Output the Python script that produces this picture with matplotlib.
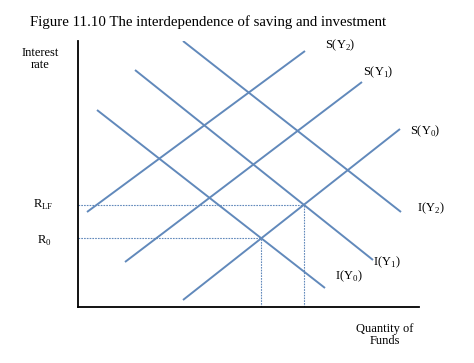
import numpy as np
import matplotlib
matplotlib.use("Agg")
import matplotlib.pyplot as plt

plt.rcParams['font.family'] = ['Liberation Serif', 'DejaVu Serif']
plt.rcParams['mathtext.fontset'] = 'custom'
plt.rcParams['mathtext.rm'] = 'Liberation Serif'

### curve endpoints (quantity, rate)
saving_names = ['S(Y$_2$)', 'S(Y$_1$)', 'S(Y$_0$)']
saving_x = [(9, 227), (47, 284), (105, 322)]
saving_y = [(95, 256), (45, 225), (7, 178)]

invest_names = ['I(Y$_2$)', 'I(Y$_1$)', 'I(Y$_0$)']
invest_x = [(105, 323), (57, 295), (19, 247)]
invest_y = [(266, 95), (237, 47), (197, 19)]

blue = '#6189bb'


def cross(ax_, ay_, bx_, by_):
    # intersection of two straight segments
    m1 = (ay_[1] - ay_[0]) / (ax_[1] - ax_[0])
    m2 = (by_[1] - by_[0]) / (bx_[1] - bx_[0])
    x = (by_[0] - ay_[0] + m1 * ax_[0] - m2 * bx_[0]) / (m1 - m2)
    return x, ay_[0] + m1 * (x - ax_[0])


fig = plt.figure(figsize=(4.74, 3.63), dpi=100)
ax = fig.add_axes([78 / 474, 56 / 363, 341 / 474, 266 / 363])
ax.set_xlim(0, 341)
ax.set_ylim(0, 266)
ax.set_xticks([])
ax.set_yticks([])
for s in ['top', 'right']:
    ax.spines[s].set_visible(False)
for s in ['left', 'bottom']:
    ax.spines[s].set_linewidth(1.3)

for xs, ys in zip(saving_x, saving_y):
    ax.plot(xs, ys, color=blue, lw=1.4, solid_capstyle='butt')
for xs, ys in zip(invest_x, invest_y):
    ax.plot(xs, ys, color=blue, lw=1.4, solid_capstyle='butt')

# equilibria: S(Y0) with I(Y0) and with I(Y1)
q0, r0 = cross(saving_x[2], saving_y[2], invest_x[2], invest_y[2])
q1, r1 = cross(saving_x[2], saving_y[2], invest_x[1], invest_y[1])
for q, r in [(q0, r0), (q1, r1)]:
    ax.plot([0, q], [r, r], color=blue, lw=0.8, ls=(0, (1.5, 1)))
    ax.plot([q, q], [0, r], color=blue, lw=0.8, ls=(0, (1.5, 1)))

# curve labels
fs = 9
ax.text(247, 262, saving_names[0], fontsize=fs, va='center', clip_on=False)
ax.text(285, 235, saving_names[1], fontsize=fs, va='center', clip_on=False)
ax.text(332, 176, saving_names[2], fontsize=fs, va='center', clip_on=False)
ax.text(339, 99, invest_names[0], fontsize=fs, va='center', clip_on=False)
ax.text(295, 45, invest_names[1], fontsize=fs, va='center', clip_on=False)
ax.text(257, 31, invest_names[2], fontsize=fs, va='center', clip_on=False)

ax.text(-35, r1, 'R$_{\\mathrm{LF}}$', fontsize=fs, ha='center', va='center', clip_on=False)
ax.text(-34, r0 - 3, 'R$_0$', fontsize=fs, ha='center', va='center', clip_on=False)
ax.text(-38, 248, 'Interest\nrate', fontsize=fs, ha='center', va='center',
        linespacing=1.05, clip_on=False)
ax.text(307, -28, 'Quantity of\nFunds', fontsize=fs, ha='center', va='center',
        linespacing=1.1, clip_on=False)

fig.text(30 / 474, 1 - 22 / 363, 'Figure 11.10 The interdependence of saving and investment',
         fontsize=10.7, va='center')

fig.savefig('out.png', dpi=100)
